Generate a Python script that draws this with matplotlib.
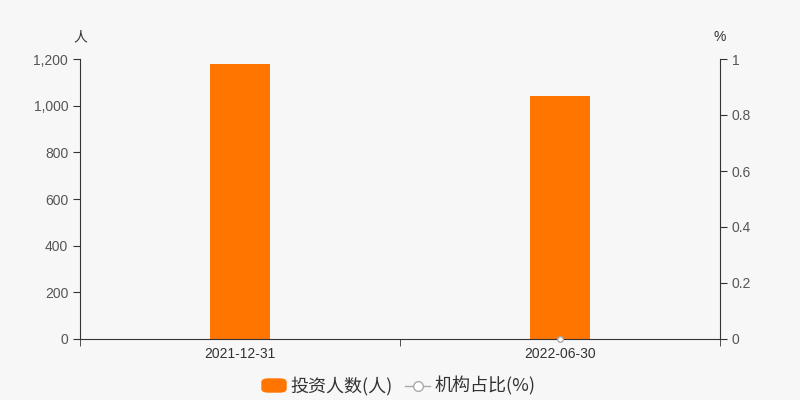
import matplotlib
matplotlib.use("Agg")
import matplotlib.pyplot as plt
import numpy as np
from matplotlib.ticker import FuncFormatter
from matplotlib.patches import FancyBboxPatch
from matplotlib.lines import Line2D

plt.rcParams["font.family"] = ["Liberation Sans", "Noto Sans CJK SC", "DejaVu Sans"]

dates = ["2021-12-31", "2022-06-30"]
investors = [1179, 1041]
inst_ratio = [np.nan, 0]

BG = "#f7f7f7"
ORANGE = "#ff7500"
TXT = "#333333"
CJK = ["Noto Sans CJK SC", "DejaVu Sans"]

fig = plt.figure(figsize=(8, 4), dpi=100, facecolor=BG)
ax = fig.add_axes([0.1, 0.1525, 0.8, 0.7], facecolor=BG)
x = np.arange(len(dates))
ax.bar(x, investors, width=0.1875, color=ORANGE, zorder=2)
ax.set_xlim(-0.5, 1.5)
ax.set_ylim(0, 1200)
ax.set_yticks(range(0, 1201, 200))
ax.yaxis.set_major_formatter(FuncFormatter(lambda v, p: f"{int(v):,}"))
ax.set_xticks(x)
ax.set_xticklabels(dates)
ax.set_xticks([-0.5, 0.5, 1.5], minor=True)
ax.tick_params(axis="x", which="major", length=0, pad=6, labelsize=10, colors=TXT)
ax.tick_params(axis="x", which="minor", length=5, color=TXT)
ax.tick_params(axis="y", length=5, color=TXT, labelsize=10, labelcolor="#555555")
for s in ["top", "right"]:
    ax.spines[s].set_visible(False)
ax.spines["left"].set_color(TXT)
ax.spines["bottom"].set_color(TXT)

ax2 = ax.twinx()
ax2.plot(x, inst_ratio, color="#aaaaaa", lw=1, marker="o", ms=4,
         mfc="white", mec="#aaaaaa", zorder=3, clip_on=False)
ax2.set_ylim(0, 1)
ax2.set_yticks([0, 0.2, 0.4, 0.6, 0.8, 1])
ax2.yaxis.set_major_formatter(FuncFormatter(lambda v, p: f"{v:g}"))
ax2.tick_params(axis="y", length=5, color=TXT, labelsize=10, labelcolor="#555555")
for s in ["top", "left", "bottom"]:
    ax2.spines[s].set_visible(False)
ax2.spines["right"].set_color(TXT)

fig.text(0.1, 0.9075, "人", ha="center", va="center", fontsize=10, color=TXT, family=CJK)
fig.text(0.9, 0.9075, "%", ha="center", va="center", fontsize=10, color=TXT)

# legend
fig.patches.append(FancyBboxPatch((262 / 800, 8 / 400), 24 / 800, 13 / 400,
                                  boxstyle="round,pad=0,rounding_size=0.008",
                                  transform=fig.transFigure, color=ORANGE))
fig.text(290 / 800, 14 / 400, "投资人数(人)", ha="left", va="center", fontsize=13,
         color=TXT, family=CJK)
fig.lines.append(Line2D([405 / 800, 430 / 800], [14 / 400, 14 / 400], color="#aaaaaa",
                        lw=1, transform=fig.transFigure))
fig.lines.append(Line2D([417.5 / 800], [14 / 400], marker="o", ms=7, mfc="white",
                        mec="#aaaaaa", transform=fig.transFigure))
fig.text(435 / 800, 14 / 400, "机构占比(%)", ha="left", va="center", fontsize=13,
         color=TXT, family=CJK)

fig.savefig("out.png", dpi=100, facecolor=BG)
